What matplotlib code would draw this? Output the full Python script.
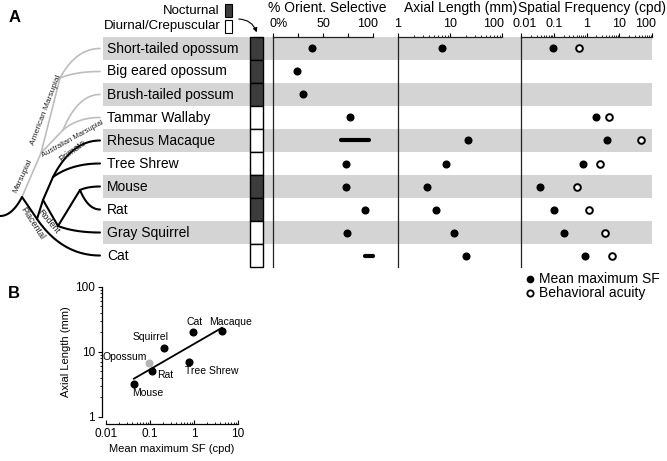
import matplotlib

matplotlib.use("Agg")
import matplotlib.pyplot as plt  # noqa: E402
import matplotlib.transforms as mtransforms  # noqa: E402
import numpy as np  # noqa: E402
from matplotlib.patches import FancyArrowPatch, Rectangle  # noqa: E402

plt.rcParams["font.family"] = ["Liberation Sans", "DejaVu Sans"]

# ---- data ----
SPECIES = [
    "Short-tailed opossum", "Big eared opossum", "Brush-tailed possum", "Tammar Wallaby",
    "Rhesus Macaque", "Tree Shrew", "Mouse", "Rat", "Gray Squirrel", "Cat",
]
NOCTURNAL = [1, 1, 1, 0, 0, 0, 1, 1, 0, 0]
ORIENT_LO = [39, 24, 30, 77, 68, 73, 73, 92, 74, 92]
ORIENT_HI = [39, 24, 30, 77, 96, 73, 73, 92, 74, 100]
AXIAL_MM = [6.9, np.nan, np.nan, np.nan, 21.9, 8.3, 3.6, 5.5, 11.9, 20.6]
SF_MEAN = [0.093, np.nan, np.nan, 1.9, 4.3, 0.8, 0.038, 0.1, 0.21, 0.9]
SF_ACUITY = [0.6, np.nan, np.nan, 4.9, 46.0, 2.5, 0.5, 1.2, 3.8, 5.9]

B_NAMES = ["Mouse", "Rat", "Squirrel", "Tree Shrew", "Cat", "Macaque"]
B_SF = [0.043, 0.11, 0.21, 0.77, 0.93, 4.3]
B_AXIAL = [3.2, 5.1, 11.3, 7.0, 19.9, 21.0]
OPOSSUM_SF = 0.095
OPOSSUM_AXIAL = 6.6

# ---- layout (pixels) ----
W, H = 667, 461
ROW_TOP, ROW_H = 37, 23
BAND_X = (103, 652)
COL_X = (250, 263)
LEAF_X = 100
BAND = "#d4d4d4"
DARK = "#3c3c3c"
GRAY = "#bdbdbd"

# tree: internal node positions, edges (parent, child, colour, shape)
TREE_NODES = {
    "base": (0, 216), "root": (22, 197), "mars": (41, 153), "amer": (60, 78),
    "aust": (63, 130), "plac": (37, 219), "euarch": (43, 200), "prim": (53, 177),
    "rod": (58, 226), "murid": (80, 190),
}
TREE_EDGES = [
    ("base", "root", "k", "rise"),
    ("root", "mars", GRAY, "line"), ("mars", "amer", GRAY, "line"),
    ("amer", "Short-tailed opossum", GRAY, "leaf"), ("amer", "Big eared opossum", GRAY, "leaf"),
    ("mars", "aust", GRAY, "line"),
    ("aust", "Brush-tailed possum", GRAY, "leaf"), ("aust", "Tammar Wallaby", GRAY, "leaf"),
    ("root", "plac", "k", "line"), ("plac", "Cat", "k", "leaf"),
    ("plac", "euarch", "k", "line"), ("euarch", "prim", "k", "line"),
    ("prim", "Rhesus Macaque", "k", "leaf"), ("prim", "Tree Shrew", "k", "leaf"),
    ("euarch", "rod", "k", "line"), ("rod", "Gray Squirrel", "k", "leaf"),
    ("rod", "murid", "k", "line"), ("murid", "Mouse", "k", "leaf"), ("murid", "Rat", "k", "leaf"),
]
CLADE_LABELS = [
    ("Marsupial", 23, 176, 65, 6), ("American Marsupial", 46, 110, 69, 6),
    ("Australian Marsupial", 73, 139, 29, 5.5), ("Primate", 72, 151, 36, 6.5),
    ("Placental", 32, 223, -57, 6.5), ("Rodent", 49, 222, -50, 6.5),
]


def row_y(i):
    return ROW_TOP + ROW_H * (i + 0.5)


def node_xy(name):
    if name in TREE_NODES:
        return TREE_NODES[name]
    return (LEAF_X, row_y(SPECIES.index(name)))


def bezier(p0, p1, p2, n=40):
    t = np.linspace(0, 1, n)[:, None]
    pts = (1 - t) ** 2 * np.array(p0) + 2 * t * (1 - t) * np.array(p1) + t ** 2 * np.array(p2)
    return pts[:, 0], pts[:, 1]


def px_axes(fig, x0, x1, y0, y1):
    return fig.add_axes([x0 / W, 1 - y1 / H, (x1 - x0) / W, (y1 - y0) / H])


def minor_log(lo, hi):
    out = []
    e = int(np.floor(np.log10(lo)))
    while 10 ** e < hi:
        out += [m * 10.0 ** e for m in range(2, 10) if lo < m * 10.0 ** e < hi]
        e += 1
    return out


def shift_label(fig, ax, idx, dx):
    lab = ax.xaxis.get_major_ticks()[idx].label2
    lab.set_transform(lab.get_transform() + mtransforms.ScaledTranslation(dx / 100, 0, fig.dpi_scale_trans))
    return lab


def setup_panel(ax, xlim, bounds, ticks, labels, log):
    ax.patch.set_visible(False)
    if log:
        ax.set_xscale("log")
    ax.set_xlim(*xlim)
    ax.set_ylim(len(SPECIES), 0)
    for s in ("right", "bottom"):
        ax.spines[s].set_visible(False)
    ax.spines["top"].set_bounds(*bounds)
    for s in ("top", "left"):
        ax.spines[s].set_linewidth(0.9)
        ax.spines[s].set_color("#222222")
    ax.xaxis.tick_top()
    ax.set_yticks([])
    ax.set_xticks(ticks, labels)
    if log:
        ax.set_xticks(minor_log(*bounds), minor=True)
        ax.xaxis.set_minor_formatter(plt.NullFormatter())
    ax.tick_params(axis="x", which="major", length=3, width=0.8, pad=2, labelsize=9)
    ax.tick_params(axis="x", which="minor", length=1.6, width=0.6)


def draw_tree(ax):
    for parent, child, color, shape in TREE_EDGES:
        (x0, y0), (x1, y1) = node_xy(parent), node_xy(child)
        if shape == "leaf":
            xs, ys = bezier((x0, y0), (x0 + 0.4 * (x1 - x0), y1), (x1, y1))
        elif shape == "rise":
            xs, ys = bezier((x0, y0), (x0 + 0.55 * (x1 - x0), y0), (x1, y1))
        else:
            xs, ys = [x0, x1], [y0, y1]
        lw = 1.2 if color == GRAY else 1.5
        ax.plot(xs, ys, color=color, lw=lw, solid_capstyle="round", zorder=2)
    for text, x, y, rot, size in CLADE_LABELS:
        ax.text(x, y, text, rotation=rot, fontsize=size, ha="center", va="center",
                rotation_mode="anchor", color="#222222")


def main():
    fig = plt.figure(figsize=(W / 100, H / 100), dpi=100)
    bg = fig.add_axes([0, 0, 1, 1])
    bg.set_xlim(0, W)
    bg.set_ylim(H, 0)
    bg.axis("off")

    # bands, species names, nocturnal column
    for i, name in enumerate(SPECIES):
        top = ROW_TOP + i * ROW_H
        if i % 2 == 0:
            bg.add_patch(Rectangle((BAND_X[0], top), BAND_X[1] - BAND_X[0], ROW_H,
                                   color=BAND, lw=0, zorder=0))
        bg.text(107, row_y(i), name, fontsize=10, va="center", ha="left", zorder=3)
        bg.add_patch(Rectangle((COL_X[0], top), COL_X[1] - COL_X[0], ROW_H,
                               facecolor=DARK if NOCTURNAL[i] else "white",
                               edgecolor="black", lw=1.0, zorder=3))

    draw_tree(bg)

    # nocturnal legend
    bg.text(219, 11, "Nocturnal", fontsize=9.5, ha="right", va="center")
    bg.text(221, 26, "Diurnal/Crepuscular", fontsize=9.5, ha="right", va="center")
    bg.add_patch(Rectangle((225, 4), 7, 13, facecolor=DARK, edgecolor="black", lw=0.8))
    bg.add_patch(Rectangle((225, 20), 7, 13, facecolor="white", edgecolor="black", lw=0.8))
    bg.add_patch(FancyArrowPatch((236, 19), (257.5, 35), connectionstyle="arc3,rad=-0.4",
                                 arrowstyle="-|>", mutation_scale=6, lw=0.8, color="black"))

    bg.text(15, 17, "A", fontsize=12, fontweight="bold", ha="center", va="center")
    bg.text(14, 293, "B", fontsize=12, fontweight="bold", ha="center", va="center")

    # column headers
    bg.text(327, 12, "% Orient. Selective", fontsize=10, ha="center", va="baseline")
    bg.text(461, 12, "Axial Length (mm)", fontsize=10, ha="center", va="baseline")
    bg.text(666, 12, "Spatial Frequency (cpd)", fontsize=10, ha="right", va="baseline")

    rows = np.arange(len(SPECIES)) + 0.5
    y_bot = ROW_TOP + ROW_H * len(SPECIES)

    # % orientation selective
    ax1 = px_axes(fig, 273, 398, ROW_TOP, y_bot)
    setup_panel(ax1, (0, 125), (0, 100), [0, 25, 50, 75, 100], ["0%", "", "50", "", "100"], False)
    shift_label(fig, ax1, 0, -4).set_horizontalalignment("left")
    shift_label(fig, ax1, 4, -5)
    for y, lo, hi in zip(rows, ORIENT_LO, ORIENT_HI):
        if hi > lo:
            ax1.plot([lo, hi], [y, y], color="black", lw=3, solid_capstyle="round")
        else:
            ax1.plot(lo, y, "o", color="black", ms=4.8)

    # axial length
    ax2 = px_axes(fig, 398, 521, ROW_TOP, y_bot)
    setup_panel(ax2, (1, 10 ** (123 / 52)), (1, 100), [1, 10, 100], ["1", "10", "100"], True)
    shift_label(fig, ax2, 2, -8)
    ax2.plot(AXIAL_MM, rows, "o", color="black", ms=4.8)

    # spatial frequency
    ax3 = px_axes(fig, 521, 652, ROW_TOP, y_bot)
    setup_panel(ax3, (0.01, 100), (0.01, 100), [0.01, 0.1, 1, 10, 100],
                ["0.01", "0.1", "1", "10", "100"], True)
    shift_label(fig, ax3, 0, 4)
    shift_label(fig, ax3, 4, -6)
    ax3.plot(SF_MEAN, rows, "o", color="black", ms=4.8)
    ax3.plot(SF_ACUITY, rows, "o", mfc="white", mec="black", mew=1.4, ms=4.8)

    # legend
    bg.plot(530, 279, "o", color="black", ms=4.5)
    bg.plot(530, 293, "o", mfc="white", mec="black", mew=1.3, ms=4.5)
    bg.text(539, 279, "Mean maximum SF", fontsize=10, va="center")
    bg.text(539, 293, "Behavioral acuity", fontsize=10, va="center")

    # panel B
    axb = px_axes(fig, 106, 238, 286.7, 416.7)
    axb.set_xscale("log")
    axb.set_yscale("log")
    axb.set_xlim(0.01, 10)
    axb.set_ylim(1, 100)
    for s in ("top", "right"):
        axb.spines[s].set_visible(False)
    axb.spines["bottom"].set_position(("outward", 5))
    axb.spines["left"].set_position(("outward", 3))
    for s in ("bottom", "left"):
        axb.spines[s].set_linewidth(0.9)
    axb.set_xticks([0.01, 0.1, 1, 10], ["0.01", "0.1", "1", "10"])
    axb.set_yticks([1, 10, 100], ["1", "10", "100"])
    axb.set_xticks(minor_log(0.01, 10), minor=True)
    axb.set_yticks(minor_log(1, 100), minor=True)
    axb.xaxis.set_minor_formatter(plt.NullFormatter())
    axb.yaxis.set_minor_formatter(plt.NullFormatter())
    axb.tick_params(axis="x", which="both", direction="in", labelsize=8.5, pad=3)
    axb.tick_params(axis="y", which="both", direction="out", labelsize=8.5, pad=2)
    axb.tick_params(which="major", length=3, width=0.8)
    axb.tick_params(which="minor", length=1.6, width=0.6)
    axb.set_xlabel("Mean maximum SF (cpd)", fontsize=8, labelpad=3)
    axb.set_ylabel("Axial Length (mm)", fontsize=8, labelpad=3)

    lx, ly = np.log10(B_SF), np.log10(B_AXIAL)
    slope, icpt = np.polyfit(lx, ly, 1)
    fx = np.array([lx.min(), lx.max()])
    axb.plot(10 ** fx, 10 ** (icpt + slope * fx), color="black", lw=1.3, zorder=2)
    axb.plot(B_SF, B_AXIAL, "o", color="black", ms=4.8, zorder=3)
    axb.plot(OPOSSUM_SF, OPOSSUM_AXIAL, "o", color="#b4b4b4", ms=4.8, zorder=3)

    offsets = {
        "Mouse": (-2, -9, "left"), "Rat": (5, -4, "left"), "Squirrel": (-14, 11, "center"),
        "Tree Shrew": (-4, -9, "left"), "Cat": (2, 10, "center"), "Macaque": (9, 9, "center"),
    }
    for name, x, y in zip(B_NAMES, B_SF, B_AXIAL):
        dx, dy, ha = offsets[name]
        axb.annotate(name, (x, y), xytext=(dx, dy), textcoords="offset pixels",
                     fontsize=7.5, ha=ha, va="center")
    axb.annotate("Opossum", (OPOSSUM_SF, OPOSSUM_AXIAL), xytext=(-2, 6), textcoords="offset pixels",
                 fontsize=7.5, ha="right", va="center")

    fig.savefig("out.png", dpi=100)
    plt.close(fig)


if __name__ == "__main__":
    main()
